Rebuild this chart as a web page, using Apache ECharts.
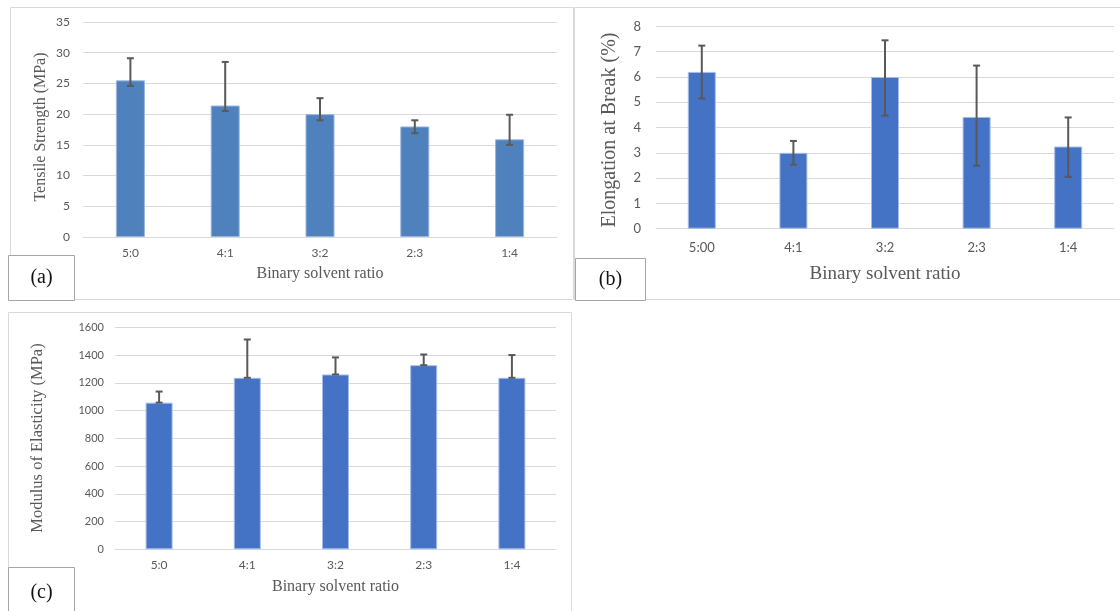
<!DOCTYPE html>
<html><head><meta charset="utf-8">
<script src="https://cdn.jsdelivr.net/npm/echarts@6/dist/echarts.min.js"></script>
<style>html,body{margin:0;padding:0;background:#fff}#c{width:1120px;height:611px}</style>
</head><body><div id="c"></div>
<script>
// ---- data ----
const catsA = ['5:0', '4:1', '3:2', '2:3', '1:4'];
const catsB = ['5:00', '4:1', '3:2', '2:3', '1:4'];
const catsC = ['5:0', '4:1', '3:2', '2:3', '1:4'];

const tensile   = [25.5, 21.4, 20.0, 18.0, 15.9];
const tensileHi = [29.1, 28.5, 22.6, 19.0, 19.9];
const tensileLo = [24.6, 20.5, 19.0, 16.9, 15.0];

const elong   = [6.2, 3.0, 6.0, 4.42, 3.25];
const elongHi = [7.24, 3.47, 7.45, 6.45, 4.4];
const elongLo = [5.15, 2.53, 4.47, 2.49, 2.05];

const modulus   = [1057, 1236, 1260, 1327, 1236];
const modulusHi = [1137, 1512, 1383, 1404, 1400];
const modulusLo = [1057, 1236, 1260, 1327, 1236];

const axisA = [0, 35, 5];
const axisB = [0, 8, 1];
const axisC = [0, 1600, 200];

const xTitle = 'Binary solvent ratio';
const yTitleA = 'Tensile Strength (MPa)';
const yTitleB = 'Elongation at Break (%)';
const yTitleC = 'Modulus of Elasticity (MPa)';
const panelLabels = ['(a)', '(b)', '(c)'];

// ---- helpers ----
const GRID_COLOR = '#d9d9d9';
const LABEL_COLOR = '#595959';
const SANS = 'Lato';
const SERIF = 'Liberation Serif';

function errData(hi, lo) { return hi.map((h, i) => [i, h, lo[i]]); }
function errRender(capHalf) {
  return function (params, api) {
    const x = api.value(0);
    const pHi = api.coord([x, api.value(1)]);
    const pLo = api.coord([x, api.value(2)]);
    const style = { stroke: '#595959', lineWidth: 2 };
    return { type: 'group', children: [
      { type: 'line', shape: { x1: pHi[0], y1: pHi[1], x2: pLo[0], y2: pLo[1] }, style },
      { type: 'line', shape: { x1: pHi[0] - capHalf, y1: pHi[1], x2: pHi[0] + capHalf, y2: pHi[1] }, style },
      { type: 'line', shape: { x1: pLo[0] - capHalf, y1: pLo[1], x2: pLo[0] + capHalf, y2: pLo[1] }, style }
    ]};
  };
}
function xAx(idx, cats, fs, margin, titleFs, gap) {
  return {
    type: 'category', gridIndex: idx, data: cats,
    axisLine: { show: true, lineStyle: { color: GRID_COLOR, width: 1 } },
    axisTick: { show: false },
    axisLabel: { color: LABEL_COLOR, fontSize: fs, fontFamily: SANS, margin: margin },
    name: xTitle, nameLocation: 'middle', nameGap: gap,
    nameTextStyle: { color: LABEL_COLOR, fontSize: titleFs, fontFamily: SERIF }
  };
}
function yAx(idx, ax, fs, margin) {
  return {
    type: 'value', gridIndex: idx, min: ax[0], max: ax[1], interval: ax[2],
    axisLine: { show: false }, axisTick: { show: false },
    splitLine: { lineStyle: { color: GRID_COLOR, width: 1 } },
    axisLabel: { color: LABEL_COLOR, fontSize: fs, fontFamily: SANS, margin: margin,
      formatter: function (v) { return String(v); } }
  };
}
function rotTitle(text, x, y, fs) {
  return { type: 'text', x: x, y: y, rotation: Math.PI / 2, z: 10,
    style: { text: text, fill: LABEL_COLOR, font: fs + 'px "' + SERIF + '"', textAlign: 'center', textVerticalAlign: 'middle' } };
}
function panelBox(x, y, w, h) {
  return { type: 'rect', shape: { x: x, y: y, width: w, height: h }, z: 0,
    style: { fill: 'none', stroke: GRID_COLOR, lineWidth: 1 } };
}
function labelBox(text, x, y, w, h) {
  return { type: 'group', z: 20, children: [
    { type: 'rect', shape: { x: x, y: y, width: w, height: h }, style: { fill: '#fff', stroke: '#a6a6a6', lineWidth: 1 } },
    { type: 'text', x: x + w / 2, y: y + h / 2, style: { text: text, fill: '#111', font: '20px "' + SERIF + '"', textAlign: 'center', textVerticalAlign: 'middle' } }
  ]};
}

const chart = echarts.init(document.getElementById('c'));
chart.setOption({
  animation: false,
  backgroundColor: '#fff',
  grid: [
    { left: 83, right: 1120 - 557, top: 22, bottom: 611 - 237 },
    { left: 656, right: 6, top: 26.4, bottom: 611 - 228.7 },
    { left: 115, right: 1120 - 556, top: 327.3, bottom: 611 - 549.3 }
  ],
  xAxis: [
    xAx(0, catsA, 12, 10, 16, 29),
    xAx(1, catsB, 13, 13, 19, 36),
    xAx(2, catsC, 12, 10, 16, 29)
  ],
  yAxis: [
    yAx(0, axisA, 12, 13),
    yAx(1, axisB, 13, 15),
    yAx(2, axisC, 11, 11)
  ],
  series: [
    { type: 'bar', xAxisIndex: 0, yAxisIndex: 0, data: tensile, barWidth: 29,
      itemStyle: { color: '#4f81bd', borderColor: '#9ab6dd', borderWidth: 1 } },
    { type: 'custom', xAxisIndex: 0, yAxisIndex: 0, data: errData(tensileHi, tensileLo),
      encode: { x: 0, y: [1, 2] }, renderItem: errRender(3.5), z: 5 },
    { type: 'bar', xAxisIndex: 1, yAxisIndex: 1, data: elong, barWidth: 28,
      itemStyle: { color: '#4472c4', borderColor: '#a5bde6', borderWidth: 1 } },
    { type: 'custom', xAxisIndex: 1, yAxisIndex: 1, data: errData(elongHi, elongLo),
      encode: { x: 0, y: [1, 2] }, renderItem: errRender(3.5), z: 5 },
    { type: 'bar', xAxisIndex: 2, yAxisIndex: 2, data: modulus, barWidth: 27,
      itemStyle: { color: '#4472c4', borderColor: '#a5bde6', borderWidth: 1 } },
    { type: 'custom', xAxisIndex: 2, yAxisIndex: 2, data: errData(modulusHi, modulusLo),
      encode: { x: 0, y: [1, 2] }, renderItem: errRender(3.5), z: 5 }
  ],
  graphic: [
    panelBox(10.5, 7.5, 563, 292),
    panelBox(574.5, 7.5, 560, 292),
    panelBox(8.5, 312.5, 563, 310),
    rotTitle(yTitleA, 41, 127, 16),
    rotTitle(yTitleB, 610, 130, 20),
    rotTitle(yTitleC, 38, 438, 16.5),
    labelBox(panelLabels[0], 8.5, 255.5, 66, 45),
    labelBox(panelLabels[1], 575.5, 258.5, 70, 42),
    labelBox(panelLabels[2], 8.5, 567.5, 66, 50)
  ]
});
</script>
</body></html>
